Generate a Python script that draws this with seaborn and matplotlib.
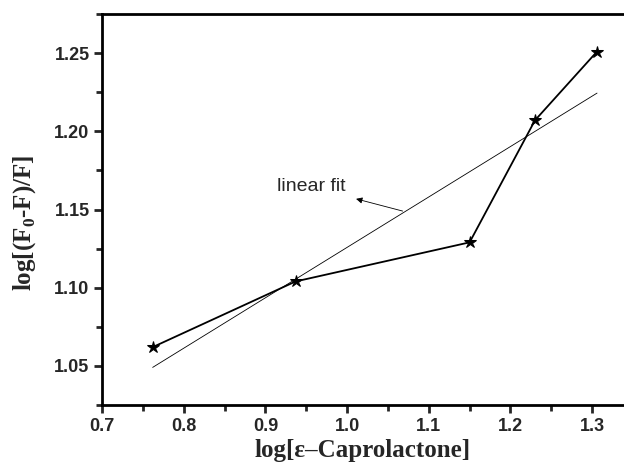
import numpy as np
import pandas as pd
import matplotlib
matplotlib.use("Agg")
import matplotlib.pyplot as plt
import seaborn as sns
from matplotlib.ticker import MultipleLocator

# data
log_capro = [0.762, 0.937, 1.150, 1.230, 1.306]
log_quench = [1.062, 1.104, 1.129, 1.207, 1.251]

x_ticks = [0.7, 0.8, 0.9, 1.0, 1.1, 1.2, 1.3]
y_ticks = [1.05, 1.10, 1.15, 1.20, 1.25]

df = pd.DataFrame({"x": log_capro, "y": log_quench})

sns.set_theme(style="ticks")
plt.rcParams["font.family"] = ["Liberation Sans", "DejaVu Sans"]
plt.rcParams["mathtext.fontset"] = "custom"
plt.rcParams["mathtext.rm"] = "Liberation Serif"
plt.rcParams["mathtext.bf"] = "Liberation Serif:bold"

fig = plt.figure(figsize=(6.24, 4.68), dpi=100)
ax = fig.add_axes([0.1635, 0.1346, 0.8365, 0.8355])

# linear fit (thin line)
sns.regplot(data=df, x="x", y="y", ax=ax, scatter=False, ci=None, truncate=True,
            line_kws={"color": "black", "lw": 0.6})

# data with stars
sns.lineplot(data=df, x="x", y="y", ax=ax, sort=False, color="black", lw=1.3,
             marker="*", markersize=9, markeredgecolor="black")

# label and arrow pointing from the fit line back to the text
ax.text(0.914, 1.1644, "linear fit", fontsize=14, va="center", ha="left")
ax.annotate("", xy=(1.011, 1.1568), xytext=(1.068, 1.149),
            arrowprops=dict(arrowstyle="-|>", color="black", lw=0.6,
                            mutation_scale=9, shrinkA=0, shrinkB=0))

ax.set_xlim(0.7, 1.339)
ax.set_ylim(1.025, 1.275)
ax.set_xticks(x_ticks)
ax.set_yticks(y_ticks)
ax.set_xticklabels([f"{v:.1f}" for v in x_ticks])
ax.set_yticklabels([f"{v:.2f}" for v in y_ticks])
ax.xaxis.set_minor_locator(MultipleLocator(0.05))
ax.yaxis.set_minor_locator(MultipleLocator(0.025))

ax.tick_params(which="major", direction="out", length=6, width=2, labelsize=13, pad=3)
ax.tick_params(which="minor", direction="out", length=4, width=2)
for lab in ax.get_xticklabels() + ax.get_yticklabels():
    lab.set_fontweight("bold")

for s in ["left", "bottom", "top"]:
    ax.spines[s].set_linewidth(2)
    ax.spines[s].set_color("black")
ax.spines["right"].set_visible(False)

ax.set_xlabel("log[ε–Caprolactone]", fontsize=18, fontweight="bold",
              family=["Liberation Serif", "DejaVu Serif"], labelpad=3)
ax.set_ylabel(r"log[(F$_{\mathbf{0}}$-F)/F]", fontsize=18, fontweight="bold",
              family=["Liberation Serif", "DejaVu Serif"])
ax.yaxis.set_label_coords(-0.1225, 0.4655)

fig.savefig("out.png", dpi=100)
